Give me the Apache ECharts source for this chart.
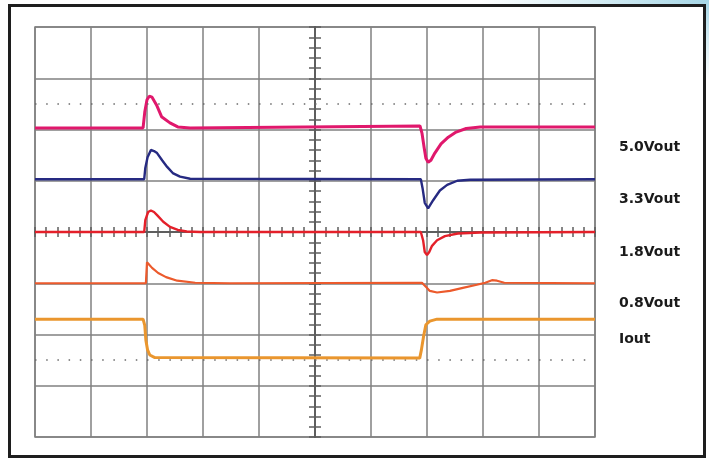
<!DOCTYPE html>
<html><head><meta charset="utf-8">
<script src="https://cdn.jsdelivr.net/npm/echarts@6/dist/echarts.min.js"></script>
<style>
html,body{margin:0;padding:0;width:709px;height:458px;overflow:hidden;background:#fff;}
#bg{position:absolute;left:0;top:0;width:709px;height:458px;background:radial-gradient(ellipse 230px 80px at 100% 0,#a6d6e6 0,#d6edf4 50%,#ffffff 100%);}
#frame{position:absolute;left:8px;top:4px;width:698px;height:454px;box-sizing:border-box;border:3px solid #1e1e1e;background:#fff;}
#chart{position:absolute;left:0;top:0;width:709px;height:458px;}
</style></head><body>
<div id="bg"></div><div id="frame"></div><div id="chart"></div>
<script>
// x in horizontal divisions (-5..5), y in vertical divisions (-4..4)
const v50x = [-5, -3.07, -3.04, -3.0, -2.96, -2.91, -2.83, -2.74, -2.59, -2.45, -2.23, 1.875, 1.91, 1.95, 1.98, 2.02, 2.07, 2.14, 2.25, 2.38, 2.52, 2.70, 2.95, 5];
const v50y = [2.03, 2.03, 2.34, 2.58, 2.65, 2.63, 2.48, 2.25, 2.13, 2.05, 2.03, 2.07, 1.93, 1.64, 1.44, 1.36, 1.40, 1.54, 1.72, 1.85, 1.95, 2.02, 2.05, 2.05];
const v33x = [-5, -3.05, -3.03, -2.99, -2.93, -2.875, -2.82, -2.73, -2.64, -2.54, -2.41, -2.23, 1.89, 1.92, 1.96, 2.02, 2.05, 2.11, 2.23, 2.36, 2.54, 2.77, 5];
const v33y = [1.03, 1.03, 1.25, 1.46, 1.60, 1.58, 1.54, 1.40, 1.27, 1.15, 1.08, 1.04, 1.03, 0.86, 0.57, 0.46, 0.49, 0.62, 0.81, 0.92, 1.00, 1.02, 1.03];
const v18x = [-5, -3.05, -3.03, -2.98, -2.93, -2.875, -2.82, -2.71, -2.59, -2.45, -2.29, -2.05, 1.89, 1.93, 1.96, 2.0, 2.04, 2.09, 2.18, 2.32, 2.55, 2.95, 5];
const v18y = [0, 0, 0.23, 0.39, 0.42, 0.39, 0.33, 0.20, 0.10, 0.04, 0.01, 0, 0, -0.16, -0.39, -0.45, -0.39, -0.27, -0.16, -0.08, -0.03, -0.01, 0];
const v08x = [-5, -3.02, -3.0, -2.96, -2.91, -2.80, -2.66, -2.46, -2.14, -1.52, 1.91, 1.98, 2.05, 2.18, 2.41, 2.64, 2.89, 3.04, 3.16, 3.25, 3.38, 5];
const v08y = [-1.0, -1.0, -0.59, -0.64, -0.70, -0.80, -0.88, -0.95, -0.99, -1.0, -0.99, -1.07, -1.15, -1.18, -1.15, -1.09, -1.03, -0.99, -0.94, -0.95, -0.99, -1.0];
const ioutx = [-5, -3.07, -3.04, -3.02, -2.99, -2.95, -2.86, 1.87, 1.90, 1.94, 1.98, 2.05, 2.18, 5];
const iouty = [-1.70, -1.70, -1.82, -2.11, -2.30, -2.40, -2.45, -2.46, -2.30, -2.03, -1.81, -1.74, -1.70, -1.70];
const names = ['5.0Vout', '3.3Vout', '1.8Vout', '0.8Vout', 'Iout'];
const dottedRows = [2.5, -2.5];

const traces = [
  {name: names[0], x: v50x, y: v50y, color: '#e0186c', w: 3},
  {name: names[1], x: v33x, y: v33y, color: '#262a82', w: 2.4},
  {name: names[2], x: v18x, y: v18y, color: '#e4202a', w: 2.4},
  {name: names[3], x: v08x, y: v08y, color: '#ec5a2c', w: 2.2},
  {name: names[4], x: ioutx, y: iouty, color: '#ea962e', w: 3}
];

const gridColor = '#808080';
const axisColor = '#5e5e5e';
function mkAxis(isX, pos, inside, split) {
  return {
    type: 'value', min: isX ? -5 : -4, max: isX ? 5 : 4, interval: 1, position: pos,
    axisLine: {show: true, onZero: true, onZeroAxisIndex: 0, lineStyle: {color: axisColor, width: 2}},
    axisTick: {show: true, inside: inside, length: isX ? 5 : 6, lineStyle: {color: axisColor, width: 1.5}},
    minorTick: {show: true, splitNumber: 5, length: isX ? 5 : 6, lineStyle: {color: axisColor, width: 1.5}},
    axisLabel: {show: false},
    splitLine: {show: split, lineStyle: {color: gridColor, width: 1.5}},
    minorSplitLine: {show: false}
  };
}

const chart = echarts.init(document.getElementById('chart'), null, {renderer: 'canvas'});
const series = [{
  type: 'line', data: [], silent: true, z: 1,
  markLine: {
    silent: true, symbol: ['none', 'none'], label: {show: false}, animation: false,
    lineStyle: {color: '#6a6a6a', width: 1.5, type: [1.5, 9.7]},
    emphasis: {disabled: true},
    data: dottedRows.map(v => ({yAxis: v}))
  }
}].concat(traces.map((t, k) => ({
  type: 'line', name: t.name, z: 3 + k,
  data: t.x.map((x, i) => [x, t.y[i]]),
  showSymbol: false, symbol: 'none', smooth: false,
  lineStyle: {color: t.color, width: t.w},
  itemStyle: {color: t.color},
  emphasis: {disabled: true},
  endLabel: {show: true, formatter: t.name, color: '#1a1a1a', fontFamily: 'DejaVu Sans',
    fontWeight: 'bold', fontSize: 14, distance: 24, offset: [0, 20], align: 'left', verticalAlign: 'middle'}
})));

chart.setOption({
  animation: false,
  backgroundColor: 'transparent',
  grid: {left: 35, top: 27, width: 560, height: 410, show: true, borderColor: gridColor, borderWidth: 1.5, backgroundColor: 'transparent'},
  xAxis: [mkAxis(true, 'bottom', false, true), mkAxis(true, 'top', false, false)],
  yAxis: [mkAxis(false, 'left', false, true), mkAxis(false, 'right', false, false)],
  series: series
});
</script>
</body></html>
